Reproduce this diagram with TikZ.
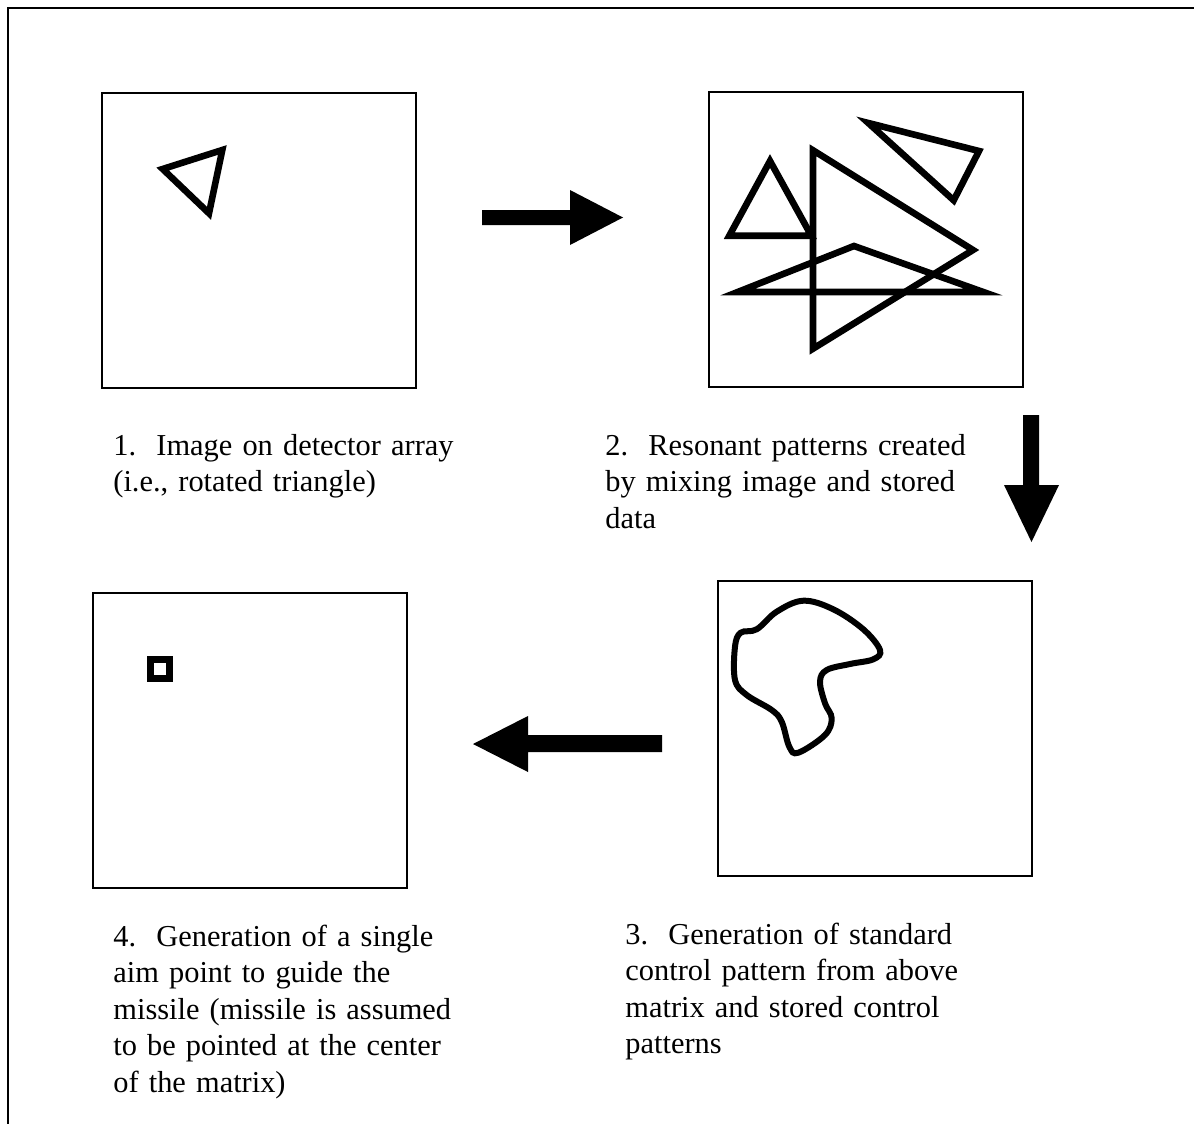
\documentclass[tikz,border=0pt]{standalone}
\usepackage{fontspec}
\setmainfont{Liberation Serif}
\begin{document}
\frenchspacing
\begin{tikzpicture}[x=0.5pt,y=-0.5pt,
  frameline/.style={line width=1pt},
  panel/.style={draw, line width=1pt, minimum width=157pt, minimum height=147.5pt, inner sep=0pt, outer sep=0pt},
  figline/.style={line width=3.3pt, line join=miter},
  blockarrow/.style={fill=black},
  caption/.style={anchor=base west, inner sep=0pt, text width=200pt, align=left,
    font=\fontsize{15.2pt}{18.3pt}\selectfont}]
\useasboundingbox (0,0) rectangle (1194,1124);
% outer frame
\draw[frameline] (1194,8) -- (8,8) -- (8,1124);
% panels
\node[panel] (b1) at (259,240.5) {};
\node[panel] (b2) at (865.5,239.5) {};
\node[panel] (b3) at (875,728.5) {};
\node[panel] (b4) at (249.5,740) {};
% panel 1: rotated triangle
\draw[figline] (162.7,169) -- (222.3,150) -- (209,213.3) -- cycle;
% panel 2: mixed patterns
\draw[figline] (770,161) -- (729.3,235.7) -- (811.3,235.7) -- cycle;
\draw[figline] (868.3,123) -- (979,151) -- (953.7,200.3) -- cycle;
\draw[figline] (813,150.3) -- (973,250) -- (813,348.7) -- cycle;
\draw[figline] (737.7,292) -- (854,246) -- (983.3,292) -- cycle;
% panel 3: control pattern blob
\draw[line width=3pt] plot[smooth cycle, tension=0.6] coordinates {
  (740.7,632.7) (756.7,629.3) (776.7,611.7) (803.3,600.7) (833.3,609.3)
  (863.3,629.3) (880,650) (873.3,659.3) (850,664) (826.7,670)
  (820,681.7) (825,703.3) (831.7,718.3) (825,735) (798.3,752.7)
  (789.3,746.7) (781.7,721.7) (771.7,710) (746.7,695) (735,680) (735,646.7)};
% panel 4: aim point
\draw[line width=3.25pt] (150.5,659.5) rectangle (169.5,678.5);
% block arrows
\fill[blockarrow] (482,210) -- (570,210) -- (570,190) -- (623,217.5) -- (570,245) -- (570,225) -- (482,225) -- cycle;
\fill[blockarrow] (1023,415) -- (1039,415) -- (1039,485) -- (1059,485) -- (1031.5,542) -- (1004,485) -- (1023,485) -- cycle;
\fill[blockarrow] (662,735) -- (528,735) -- (528,716) -- (473,744) -- (528,772) -- (528,752) -- (662,752) -- cycle;
% captions
\node[caption] (t1) at (113,455) {1.\ \ Image on detector array\\(i.e., rotated triangle)};
\node[caption] (t2) at (605,455) {2.\ \ Resonant patterns created\\by mixing image and stored\\data};
\node[caption] (t3) at (625,944) {3.\ \ Generation of standard\\control pattern from above\\matrix and stored control\\patterns};
\node[caption] (t4) at (113,946) {4.\ \ Generation of a single\\aim point to guide the\\missile (missile is assumed\\to be pointed at the center\\of the matrix)};
\end{tikzpicture}
\end{document}
